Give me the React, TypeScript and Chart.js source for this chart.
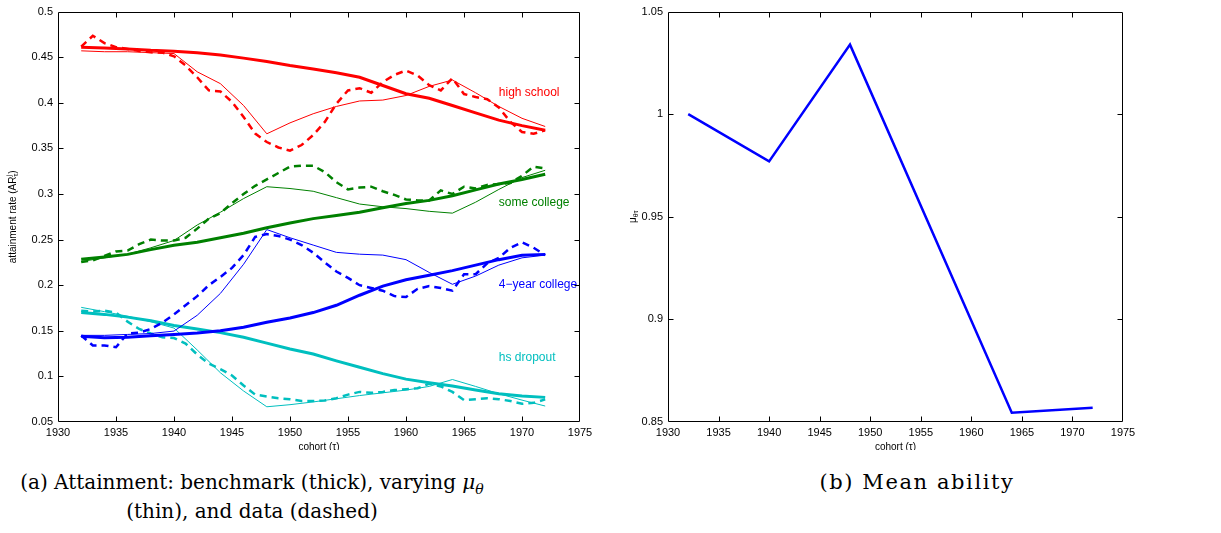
import React, { useEffect, useRef } from 'react';
import { Chart, registerables } from 'chart.js';

Chart.register(...registerables);

// ---------- tick values ----------
const X_TICKS = [1930, 1935, 1940, 1945, 1950, 1955, 1960, 1965, 1970, 1975];
const LEFT_Y_TICKS = [0.05, 0.1, 0.15, 0.2, 0.25, 0.3, 0.35, 0.4, 0.45, 0.5];
const RIGHT_Y_TICKS = [0.85, 0.9, 0.95, 1, 1.05];

// ---------- cohorts ----------
const MODEL_YEARS = [1932, 1934, 1936, 1938, 1940, 1942, 1944, 1946, 1948, 1950, 1952, 1954, 1956, 1958, 1960, 1962, 1964, 1966, 1968, 1970, 1972];
const DATA_YEARS = [1932, 1933, 1934, 1935, 1936, 1937, 1938, 1939, 1940, 1941, 1942, 1943, 1944, 1945, 1946, 1947, 1948, 1949, 1950, 1951, 1952, 1953, 1954, 1955, 1956, 1957, 1958, 1959, 1960, 1961, 1962, 1963, 1964, 1965, 1966, 1967, 1968, 1969, 1970, 1971, 1972];

// ---------- high school ----------
const HS_BENCH = [0.461, 0.460, 0.459, 0.4575, 0.4566, 0.455, 0.4525, 0.449, 0.4452, 0.4408, 0.437, 0.433, 0.428, 0.419, 0.410, 0.405, 0.397, 0.389, 0.381, 0.375, 0.370];
const HS_THIN = [0.457, 0.456, 0.456, 0.455, 0.454, 0.434, 0.421, 0.397, 0.366, 0.378, 0.388, 0.396, 0.402, 0.403, 0.408, 0.418, 0.425, 0.411, 0.396, 0.383, 0.374];
const HS_DATA = [0.4615, 0.4735, 0.4655, 0.461, 0.459, 0.4568, 0.4553, 0.455, 0.451, 0.441, 0.428, 0.4136, 0.4125, 0.401, 0.3845, 0.3663, 0.357, 0.351, 0.3475, 0.3537, 0.3646, 0.379, 0.399, 0.4136, 0.416, 0.411, 0.4227, 0.4306, 0.4354, 0.430, 0.4194, 0.4136, 0.427, 0.4096, 0.4063, 0.404, 0.395, 0.379, 0.368, 0.366, 0.370];

// ---------- some college ----------
const SC_BENCH = [0.2284, 0.231, 0.2338, 0.239, 0.2437, 0.247, 0.252, 0.257, 0.2629, 0.2683, 0.273, 0.2765, 0.280, 0.285, 0.2895, 0.293, 0.298, 0.3045, 0.311, 0.316, 0.3217];
const SC_THIN = [0.226, 0.230, 0.234, 0.241, 0.249, 0.266, 0.280, 0.295, 0.308, 0.306, 0.303, 0.296, 0.289, 0.286, 0.284, 0.281, 0.279, 0.291, 0.305, 0.318, 0.326];
const SC_DATA = [0.2255, 0.227, 0.232, 0.237, 0.238, 0.245, 0.250, 0.249, 0.249, 0.252, 0.262, 0.273, 0.279, 0.290, 0.300, 0.309, 0.316, 0.323, 0.330, 0.331, 0.331, 0.324, 0.313, 0.305, 0.307, 0.308, 0.303, 0.299, 0.294, 0.293, 0.293, 0.304, 0.300, 0.308, 0.306, 0.310, 0.311, 0.312, 0.320, 0.330, 0.328];

// ---------- 4-year college ----------
const FC_BENCH = [0.1441, 0.1425, 0.143, 0.1445, 0.146, 0.1475, 0.150, 0.154, 0.1594, 0.164, 0.170, 0.178, 0.189, 0.199, 0.206, 0.211, 0.216, 0.222, 0.228, 0.2328, 0.2338];
const FC_THIN = [0.145, 0.145, 0.146, 0.147, 0.1497, 0.167, 0.191, 0.223, 0.261, 0.252, 0.244, 0.236, 0.234, 0.233, 0.228, 0.214, 0.201, 0.210, 0.222, 0.230, 0.233];
const FC_DATA = [0.1449, 0.134, 0.134, 0.132, 0.147, 0.148, 0.152, 0.159, 0.168, 0.178, 0.188, 0.200, 0.209, 0.219, 0.233, 0.253, 0.256, 0.254, 0.250, 0.244, 0.2356, 0.225, 0.215, 0.208, 0.200, 0.197, 0.194, 0.188, 0.187, 0.196, 0.199, 0.197, 0.194, 0.212, 0.212, 0.224, 0.230, 0.241, 0.247, 0.241, 0.233];

// ---------- hs dropout ----------
const HD_BENCH = [0.170, 0.168, 0.165, 0.161, 0.1558, 0.152, 0.148, 0.143, 0.1365, 0.130, 0.1245, 0.117, 0.110, 0.103, 0.097, 0.093, 0.0895, 0.085, 0.081, 0.0785, 0.077];
const HD_THIN = [0.1757, 0.171, 0.166, 0.160, 0.153, 0.129, 0.104, 0.084, 0.0667, 0.069, 0.072, 0.0755, 0.079, 0.082, 0.085, 0.089, 0.0966, 0.089, 0.081, 0.074, 0.0675];
const HD_DATA = [0.172, 0.171, 0.172, 0.170, 0.160, 0.152, 0.147, 0.143, 0.142, 0.136, 0.124, 0.114, 0.108, 0.101, 0.090, 0.080, 0.078, 0.076, 0.075, 0.073, 0.073, 0.0735, 0.076, 0.080, 0.083, 0.082, 0.083, 0.085, 0.086, 0.087, 0.092, 0.089, 0.083, 0.074, 0.075, 0.076, 0.075, 0.073, 0.070, 0.071, 0.0748];

// ---------- mean ability ----------
const MU_YEARS = [1932, 1940, 1948, 1964, 1972];
const MU_VALUES = [1.0, 0.977, 1.0339, 0.8545, 0.857];

// ---------- styling ----------
const RED = '#ff0000';
const GREEN = '#008000';
const BLUE = '#0000ff';
const CYAN = '#00bfbf';
const SANS = '"Liberation Sans", Arial, Helvetica, sans-serif';

const SERIES = [
  { name: 'high school', color: RED, bench: HS_BENCH, thin: HS_THIN, data: HS_DATA, labelY: 0.411 },
  { name: 'some college', color: GREEN, bench: SC_BENCH, thin: SC_THIN, data: SC_DATA, labelY: 0.291 },
  { name: '4\u2212year college', color: BLUE, bench: FC_BENCH, thin: FC_THIN, data: FC_DATA, labelY: 0.2004 },
  { name: 'hs dropout', color: CYAN, bench: HD_BENCH, thin: HD_THIN, data: HD_DATA, labelY: 0.121 },
];
const LABEL_X = 1968;

type Part = { t: string; s: number; dy?: number; adv?: boolean };

function drawRich(ctx: CanvasRenderingContext2D, parts: Part[], x: number, y: number, rotate: boolean) {
  ctx.save();
  ctx.translate(x, y);
  if (rotate) ctx.rotate(-Math.PI / 2);
  ctx.textBaseline = 'middle';
  ctx.textAlign = 'left';
  ctx.fillStyle = '#000';
  let total = 0;
  const widths: number[] = [];
  parts.forEach((p) => {
    ctx.font = `${p.s}px ${SANS}`;
    const w = ctx.measureText(p.t).width;
    widths.push(w);
    if (p.adv !== false) total += w;
  });
  let cx = -total / 2;
  parts.forEach((p, i) => {
    ctx.font = `${p.s}px ${SANS}`;
    ctx.fillText(p.t, cx, p.dy || 0);
    if (p.adv !== false) cx += widths[i];
  });
  ctx.restore();
}

function framePlugin(cfg: { yTitle: Part[]; yTitleX: number; annotations: boolean }) {
  return {
    id: 'frame',
    afterDraw(chart: any) {
      const { ctx, chartArea } = chart;
      const { left, right, top, bottom } = chartArea;
      const xs = chart.scales.x;
      const ys = chart.scales.y;
      ctx.save();
      ctx.strokeStyle = '#000';
      ctx.lineWidth = 1;
      const L = Math.round(left) + 0.5;
      const R = Math.round(right) - 0.5;
      const T = Math.round(top) + 0.5;
      const B = Math.round(bottom) - 0.5;
      ctx.beginPath();
      ctx.rect(L, T, R - L, B - T);
      const tl = 5;
      xs.ticks.forEach((t: any) => {
        const px = Math.round(xs.getPixelForValue(t.value)) + 0.5;
        if (px <= L + 1 || px >= R - 1) return;
        ctx.moveTo(px, B);
        ctx.lineTo(px, B - tl);
        ctx.moveTo(px, T);
        ctx.lineTo(px, T + tl);
      });
      ys.ticks.forEach((t: any) => {
        const py = Math.round(ys.getPixelForValue(t.value)) + 0.5;
        if (py <= T + 1 || py >= B - 1) return;
        ctx.moveTo(L, py);
        ctx.lineTo(L + tl, py);
        ctx.moveTo(R, py);
        ctx.lineTo(R - tl, py);
      });
      ctx.stroke();
      ctx.restore();

      // axis titles
      drawRich(ctx, [{ t: 'cohort (', s: 10 }, { t: '\u03c4', s: 10 }, { t: ')', s: 10 }], (left + right) / 2, bottom + 25, false);
      drawRich(ctx, cfg.yTitle, cfg.yTitleX, (top + bottom) / 2, true);

      if (cfg.annotations) {
        ctx.save();
        ctx.font = `12px ${SANS}`;
        ctx.textAlign = 'left';
        ctx.textBaseline = 'middle';
        SERIES.forEach((s) => {
          ctx.fillStyle = s.color;
          ctx.fillText(s.name, xs.getPixelForValue(LABEL_X), ys.getPixelForValue(s.labelY));
        });
        ctx.restore();
      }
    },
  };
}

function scaleOptions(yMin: number, yMax: number, yTicks: number[]) {
  const tickFont = { family: SANS, size: 11 };
  return {
    x: {
      type: 'linear',
      min: 1930,
      max: 1975,
      grid: { display: false, drawTicks: false },
      border: { display: false },
      afterBuildTicks: (s: any) => {
        s.ticks = X_TICKS.map((v) => ({ value: v }));
      },
      afterFit: (s: any) => {
        s.height = 28;
      },
      ticks: {
        autoSkip: false,
        maxRotation: 0,
        padding: 4,
        color: '#000',
        font: tickFont,
        callback: (v: any) => String(v),
      },
    },
    y: {
      type: 'linear',
      min: yMin,
      max: yMax,
      grid: { display: false, drawTicks: false },
      border: { display: false },
      afterBuildTicks: (s: any) => {
        s.ticks = yTicks.map((v) => ({ value: v }));
      },
      afterFit: (s: any) => {
        s.width = 58;
      },
      ticks: {
        autoSkip: false,
        padding: 5,
        color: '#000',
        font: tickFont,
        callback: (v: any) => String(Number(Number(v).toFixed(2))),
      },
    },
  };
}

function toPoints(xs: number[], ys: number[]) {
  return xs.map((x, i) => ({ x, y: ys[i] }));
}

function LeftChart() {
  const ref = useRef<HTMLCanvasElement>(null);
  useEffect(() => {
    if (!ref.current) return;
    const datasets: any[] = [];
    SERIES.forEach((s) => {
      datasets.push({ data: toPoints(MODEL_YEARS, s.bench), borderColor: s.color, borderWidth: 3, pointRadius: 0, fill: false });
      datasets.push({ data: toPoints(MODEL_YEARS, s.thin), borderColor: s.color, borderWidth: 1, pointRadius: 0, fill: false });
      datasets.push({ data: toPoints(DATA_YEARS, s.data), borderColor: s.color, borderWidth: 2.5, borderDash: [7, 5], pointRadius: 0, fill: false });
    });
    const chart = new Chart(ref.current, {
      type: 'line',
      data: { datasets },
      options: {
        responsive: false,
        animation: false,
        events: [],
        layout: { padding: { left: 0, top: 9, right: 30, bottom: 0 } },
        plugins: { legend: { display: false }, tooltip: { enabled: false }, title: { display: false } },
        scales: scaleOptions(0.05, 0.5, LEFT_Y_TICKS) as any,
      },
      plugins: [
        framePlugin({
          yTitle: [
            { t: 'attainment rate (AR', s: 10 },
            { t: 'j', s: 7, dy: -4, adv: false },
            { t: '\u03c4', s: 7, dy: 3 },
            { t: ')', s: 10 },
          ],
          yTitleX: 13,
          annotations: true,
        }),
      ],
    });
    return () => chart.destroy();
  }, []);
  return <canvas ref={ref} width={610} height={450} style={{ position: 'absolute', left: 0, top: 0 }} />;
}

function RightChart() {
  const ref = useRef<HTMLCanvasElement>(null);
  useEffect(() => {
    if (!ref.current) return;
    const chart = new Chart(ref.current, {
      type: 'line',
      data: {
        datasets: [
          { data: toPoints(MU_YEARS, MU_VALUES), borderColor: BLUE, borderWidth: 2.5, pointRadius: 0, fill: false },
        ],
      },
      options: {
        responsive: false,
        animation: false,
        events: [],
        layout: { padding: { left: 0, top: 9, right: 98, bottom: 0 } },
        plugins: { legend: { display: false }, tooltip: { enabled: false }, title: { display: false } },
        scales: scaleOptions(0.85, 1.05, RIGHT_Y_TICKS) as any,
      },
      plugins: [
        framePlugin({
          yTitle: [
            { t: '\u03bc', s: 10 },
            { t: '\u03b8\u03c4', s: 7, dy: 3 },
          ],
          yTitleX: 23,
          annotations: false,
        }),
      ],
    });
    return () => chart.destroy();
  }, []);
  return <canvas ref={ref} width={611} height={450} style={{ position: 'absolute', left: 610, top: 0 }} />;
}

const captionStyle: React.CSSProperties = {
  position: 'absolute',
  textAlign: 'center',
  fontFamily: '"DejaVu Serif", "Liberation Serif", serif',
  fontSize: 20,
  lineHeight: '29px',
  color: '#000',
  whiteSpace: 'nowrap',
};

export default function App() {
  return (
    <div style={{ position: 'absolute', left: 0, top: 0, width: 1221, height: 533, background: '#fff', overflow: 'hidden' }}>
      <LeftChart />
      <RightChart />
      <div style={{ ...captionStyle, left: 2, width: 500, top: 468 }}>
        <div>
          (a) Attainment: benchmark (thick), varying <i>{'\u03bc'}</i>
          <sub style={{ fontSize: 14, fontStyle: 'italic', lineHeight: 0 }}>{'\u03b8'}</sub>
        </div>
        <div>(thin), and data (dashed)</div>
      </div>
      <div style={{ ...captionStyle, left: 667, width: 500, top: 468, fontSize: 21, letterSpacing: '1.6px' }}>(b) Mean ability</div>
    </div>
  );
}
